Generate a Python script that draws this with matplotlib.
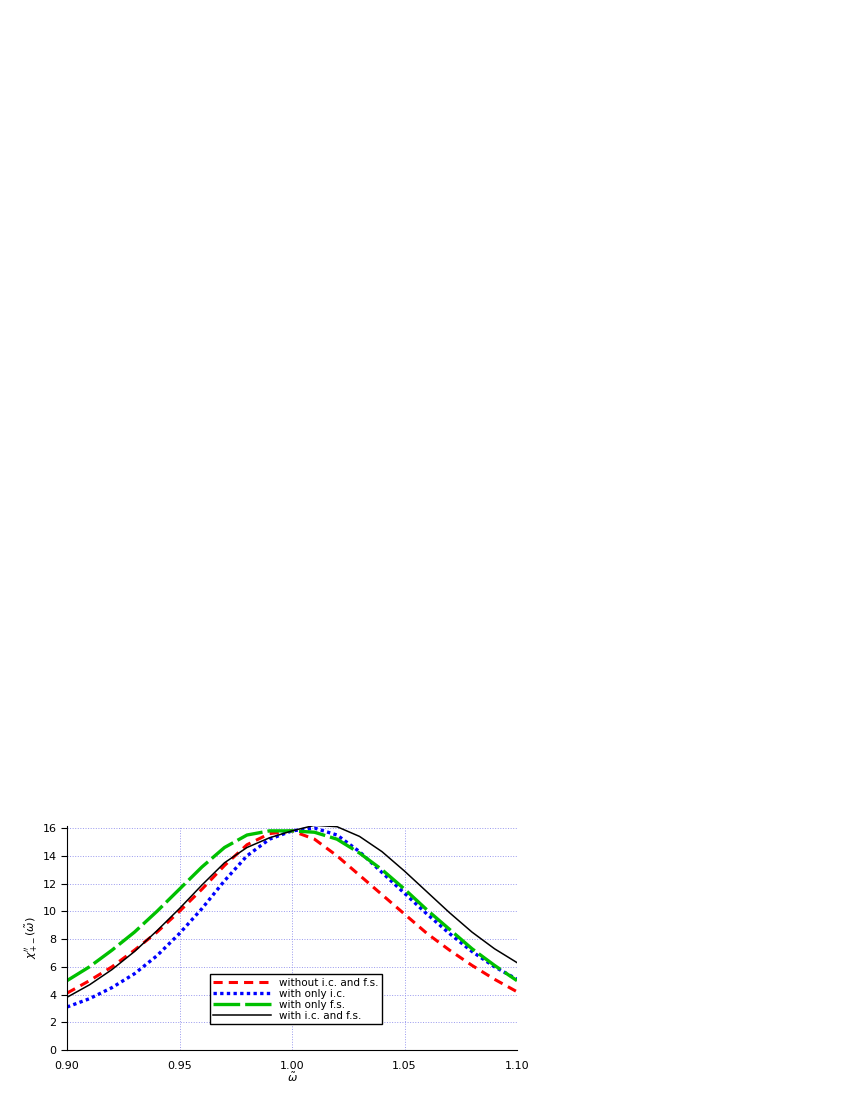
import matplotlib
matplotlib.use('Agg')
import matplotlib.pyplot as plt

x = [0.90, 0.91, 0.92, 0.93, 0.94, 0.95, 0.96, 0.97, 0.98, 0.99, 1.00,
     1.01, 1.02, 1.03, 1.04, 1.05, 1.06, 1.07, 1.08, 1.09, 1.10]
y_without = [4.1, 5.0, 6.0, 7.2, 8.5, 10.0, 11.6, 13.3, 14.8, 15.6, 15.8,
             15.2, 14.0, 12.6, 11.2, 9.8, 8.4, 7.2, 6.1, 5.1, 4.2]
y_ic = [3.1, 3.7, 4.5, 5.5, 6.8, 8.4, 10.2, 12.2, 14.0, 15.2, 15.8,
        16.0, 15.5, 14.3, 12.8, 11.3, 9.8, 8.4, 7.1, 6.0, 5.1]
y_fs = [5.0, 6.0, 7.2, 8.5, 10.0, 11.6, 13.2, 14.6, 15.5, 15.8, 15.8,
        15.7, 15.2, 14.2, 13.0, 11.6, 10.1, 8.7, 7.3, 6.1, 5.0]
y_both = [3.8, 4.7, 5.8, 7.1, 8.6, 10.2, 11.9, 13.5, 14.6, 15.3, 15.8,
          16.2, 16.1, 15.4, 14.3, 12.9, 11.4, 9.9, 8.5, 7.3, 6.3]

fig = plt.figure(figsize=(8.5, 11), dpi=100)
ax = fig.add_axes([67/850, 50/1100, 450/850, 224/1100])

ax.plot(x, y_without, color='red', ls=(0, (3, 2)), lw=2.2, label='without i.c. and f.s.')
ax.plot(x, y_ic, color='blue', ls=(0, (1, 1)), lw=2.4, label='with only i.c.')
ax.plot(x, y_fs, color='#00c000', ls=(0, (8, 1.5)), lw=2.4, label='with only f.s.')
ax.plot(x, y_both, color='black', lw=1.1, label='with i.c. and f.s.')

ax.set_xlim(0.90, 1.10)
ax.set_ylim(0, 16.15)
ax.set_xticks([0.90, 0.95, 1.00, 1.05, 1.10])
ax.set_xticklabels(['0.90', '0.95', '1.00', '1.05', '1.10'])
ax.set_yticks(range(0, 17, 2))
ax.grid(True, color='#9999ee', ls=':', lw=0.7)
for s in ['top', 'right']:
    ax.spines[s].set_visible(False)
ax.tick_params(axis='y', direction='out', length=4, labelsize=8)
ax.tick_params(axis='x', length=0, labelsize=8, pad=8)
ax.set_xlabel(r'$\tilde{\omega}$', fontsize=8, labelpad=0)
ax.set_ylabel(r"$\chi_{+-}''(\tilde{\omega})$", fontsize=8, labelpad=2)

leg = ax.legend(loc='lower left', bbox_to_anchor=(205/850, 71/1100),
                bbox_transform=fig.transFigure, fontsize=7.5, fancybox=False,
                framealpha=1, edgecolor='black', borderpad=0.3,
                labelspacing=0.1, handlelength=5.5)
leg.get_frame().set_linewidth(1.0)

fig.savefig('out.png')
